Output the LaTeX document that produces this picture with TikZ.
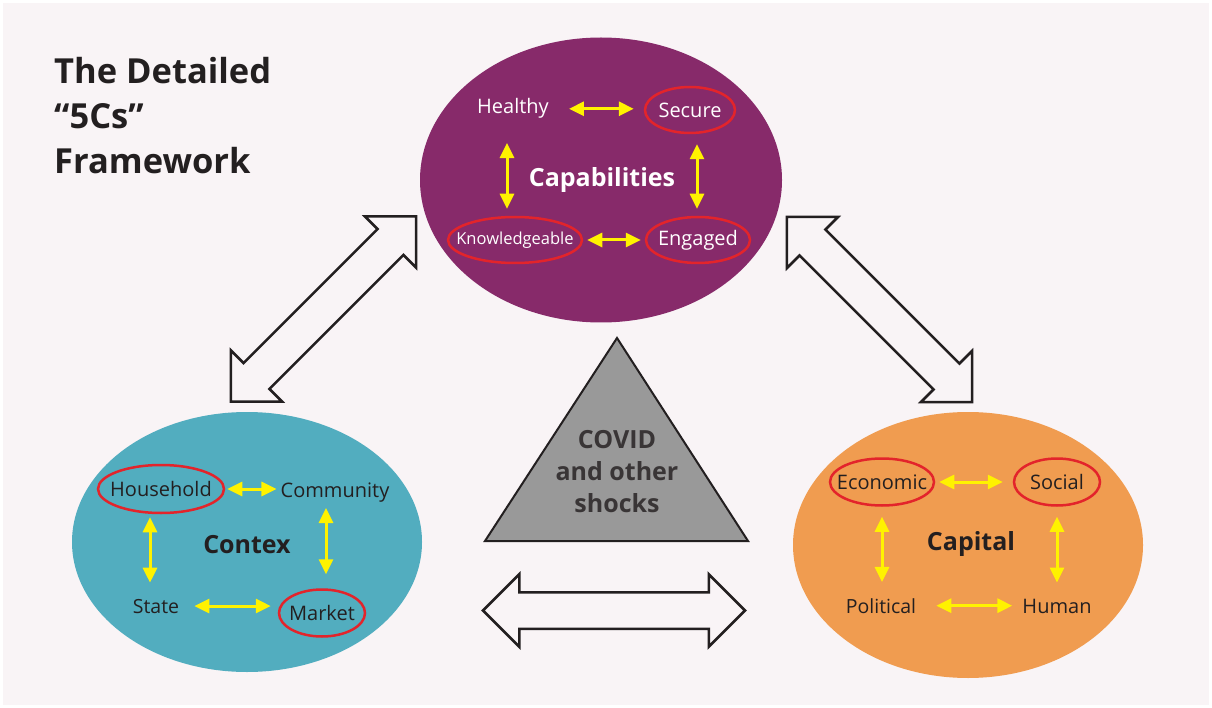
\documentclass[tikz,border=0pt]{standalone}
\usepackage{fontspec}
\setmainfont{Open Sans}
\usetikzlibrary{arrows.meta,shapes.geometric,shapes.arrows,calc}
\definecolor{bg}{HTML}{F9F4F6}
\definecolor{capp}{HTML}{872A6A}
\definecolor{ctx}{HTML}{52ADBF}
\definecolor{capo}{HTML}{F09C50}
\definecolor{ringred}{HTML}{E3242B}
\definecolor{yel}{HTML}{FFF200}
\definecolor{ink}{HTML}{231F20}
\definecolor{trigray}{HTML}{999999}
\begin{document}
\begin{tikzpicture}[x=1pt,y=-1pt,
  blob/.style={ellipse, inner sep=0pt, draw=none},
  lbl/.style={inner sep=0pt, text=ink, font=\fontsize{20}{24}\selectfont},
  slbl/.style={inner sep=0pt, text=ink, font=\fontsize{19.5}{23}\selectfont},
  boldlbl/.style={inner sep=0pt, text=ink, font=\fontsize{25}{30}\selectfont\bfseries},
  ring/.style={ellipse, draw=ringred, line width=2.5pt, inner sep=0pt, text=ink, font=\fontsize{20}{24}\selectfont},
  yarr/.style={draw=yel, line width=3pt, {Triangle[length=15pt,width=14pt]}-{Triangle[length=15pt,width=14pt]}},
  bigarr/.style={double arrow, draw=ink, line width=2.5pt, fill=bg, inner sep=0pt, inner ysep=17pt,
    double arrow head extend=18pt, double arrow tip angle=90, minimum height=262pt}
]
\fill[white] (0,0) rectangle (1212,708);
\fill[bg] (3,3) rectangle (1209,705);
\useasboundingbox (0,0) rectangle (1212,708);

% title
\node[inner sep=0pt, anchor=west, align=left, text=ink, font=\fontsize{34.5}{45}\selectfont\bfseries] (title) at (54,116) {The Detailed\\“5Cs”\\Framework};

% Capabilities
\node[blob, fill=capp, minimum width=362pt, minimum height=285pt] (capE) at (601,180) {};
\node[lbl, text=white, anchor=base] (healthy) at (513,114) {Healthy};
\node[ring, text=white, minimum width=90pt, minimum height=46pt] (secure) at (690,110) {\makebox[0pt]{Secure}};
\node[ring, text=white, minimum width=134pt, minimum height=46pt] (know) at (515,240) {\makebox[0pt]{\fontsize{16.5}{20}\selectfont Knowledgeable}};
\node[ring, text=white, minimum width=104pt, minimum height=46pt] (engaged) at (698,240) {\makebox[0pt]{Engaged}};
\node[boldlbl, text=white, anchor=base] (capab) at (602,187) {Capabilities};

\draw[yarr, shorten <=20pt, shorten >=10pt] (healthy.east) -- (healthy.east -| secure.west);
\draw[yarr, shorten <=4pt, shorten >=4pt] (know.east) -- (engaged.west);
\draw[yarr, shorten <=24pt, shorten >=7pt] ([xshift=-6pt]healthy.south) -- ([xshift=-6pt]healthy.south |- know.north);
\draw[yarr, shorten <=10pt, shorten >=7pt] ([xshift=7pt]secure.south) -- ([xshift=7pt]secure.south |- engaged.north);

% Contex
\node[blob, fill=ctx, minimum width=350pt, minimum height=260pt] (ctxE) at (247,542) {};
\node[ring, minimum width=126pt, minimum height=48pt] (household) at (161,489) {\makebox[0pt]{Household}};
\node[lbl, anchor=base] (community) at (335,497) {Community};
\node[boldlbl, anchor=base] (contex) at (247,553) {Contex};
\node[slbl, anchor=base] (state) at (156,613) {State};
\node[ring, minimum width=86pt, minimum height=47pt] (market) at (322,613) {\makebox[0pt]{Market}};

\draw[yarr, shorten <=2pt, shorten >=4pt] (household.east) -- (household.east -| community.west);
\draw[yarr, shorten <=3pt, shorten >=16pt] ([xshift=-11pt]household.south) -- ([xshift=-11pt]household.south |- state.north);
\draw[yarr, shorten <=6pt, shorten >=14pt] ([xshift=-9pt]community.south) -- ([xshift=-9pt]community.south |- market.north);
\draw[yarr, shorten <=15pt, shorten >=7pt] (state.east) -- (state.east -| market.west);

% Capital
\node[blob, fill=capo, minimum width=350pt, minimum height=266pt] (capitalE) at (968,545) {};
\node[ring, minimum width=104pt, minimum height=47pt] (economic) at (882,482) {\makebox[0pt]{Economic}};
\node[ring, minimum width=86pt, minimum height=47pt] (social) at (1057,482) {\makebox[0pt]{Social}};
\node[boldlbl, anchor=base] (capital) at (971,550) {Capital};
\node[slbl, anchor=base] (political) at (881,613) {Political};
\node[lbl, anchor=base] (human) at (1057,613) {Human};

\draw[yarr, shorten <=4pt, shorten >=10pt] (economic.east) -- (social.west);
\draw[yarr, shorten <=10pt, shorten >=16pt] (economic.south) -- (economic.south |- political.north);
\draw[yarr, shorten <=10pt, shorten >=16pt] (social.south) -- (social.south |- human.north);
\draw[yarr, shorten <=20pt, shorten >=10pt] (political.east) -- (political.east -| human.west);

% big hollow arrows
\node[bigarr, rotate=45] (arrL) at (323.5,309) {};
\node[bigarr, rotate=-45] (arrR) at (879.5,309.5) {};
\node[bigarr] (arrB) at (614,610.5) {};

% triangle
\coordinate (tA) at (617,338);
\coordinate (tB) at (485,541);
\coordinate (tC) at (748,541);
\draw[fill=trigray, draw=ink, line width=2pt, line join=miter] (tA) -- (tB) -- (tC) -- cycle;
\node[inner sep=0pt, align=center, text=ink!90!white, font=\fontsize{25}{32}\selectfont\bfseries] (covid) at (617,472) {COVID\\and other\\shocks};
\end{tikzpicture}
\end{document}
